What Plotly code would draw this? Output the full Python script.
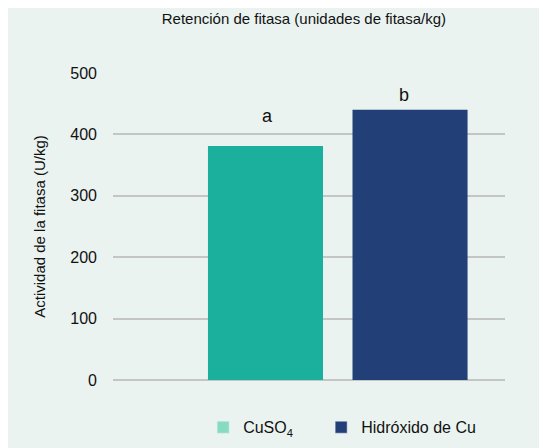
import plotly.graph_objects as go

categories = ["CuSO4", "Hidróxido de Cu"]
legend_names = ["CuSO<sub>4</sub>", "Hidróxido de Cu"]
values = [381, 440]
letters = ["a", "b"]

bar_colors = ["#1AB09D", "#233F78"]
legend_colors = ["#86DCC0", "#233F78"]
bg = "#EAF3F0"
font = "Liberation Sans, Arial, sans-serif"

fig = go.Figure()

fig.add_trace(go.Bar(
    x=categories, y=values,
    marker=dict(color=bar_colors, line=dict(width=0)),
    width=0.796, showlegend=False, hoverinfo="y",
))

# legend-only swatches (lighter green in the original legend), one legend each
legend_refs = ["legend", "legend2"]
for name, col, lg in zip(legend_names, legend_colors, legend_refs):
    fig.add_trace(go.Bar(x=[categories[0]], y=[None], name=name,
                         marker=dict(color=col), showlegend=True, legend=lg))

# significance letters, placed as in the original
shifts = [(2, 30), (-6, 15)]
for cat, v, t, (dx, dy) in zip(categories, values, letters, shifts):
    fig.add_annotation(x=cat, y=v, text=t, showarrow=False,
                       yanchor="middle", xshift=dx, yshift=dy,
                       font=dict(size=18, color="#111111", family=font))

leg_style = dict(orientation="h", xanchor="left", y=-0.154, yanchor="middle",
                 font=dict(size=16), itemwidth=30, bgcolor="rgba(0,0,0,0)")

fig.update_layout(
    width=547, height=448,
    margin=dict(l=105, r=50, t=65, b=72),
    paper_bgcolor=bg, plot_bgcolor=bg,
    font=dict(family=font, size=15, color="#111111"),
    title=dict(text="Retención de fitasa (unidades de fitasa/kg)",
               xref="paper", x=0.487, xanchor="center",
               y=0.975, yanchor="middle",
               font=dict(size=15, family=font, color="#111111")),
    barmode="overlay",
    xaxis=dict(range=[-1.055, 1.657], showticklabels=False, showgrid=False,
               zeroline=False, showline=False, fixedrange=True),
    yaxis=dict(range=[0, 500], tickvals=[0, 100, 200, 300, 400, 500],
               showgrid=True, gridcolor="#C4C6C6", gridwidth=1.5,
               zeroline=True, zerolinecolor="#C4C6C6", zerolinewidth=1.5,
               showline=False, ticks="", ticklabelstandoff=15,
               tickfont=dict(size=16),
               title=dict(text="Actividad de la fitasa (U/kg)", standoff=21,
                          font=dict(size=15))),
    legend=dict(x=0.23, **leg_style),
    legend2=dict(x=0.531, **leg_style),
    showlegend=True,
)

fig.write_html("out.html")
